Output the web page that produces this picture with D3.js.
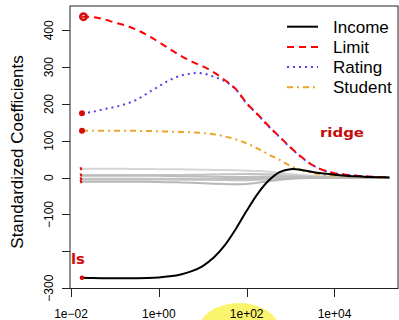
<!DOCTYPE html>
<html>
<head>
<meta charset="utf-8">
<script src="https://cdn.jsdelivr.net/npm/d3@7"></script>
<style>
  body { margin: 0; background: #fff; }
  svg { display: block; font-family: "Liberation Sans", Arial, sans-serif; }
</style>
</head>
<body>
<div id="chart"></div>
<script>
// log10(lambda) grid the coefficients were read at
const logLambda = [-1.75, -1.5, -1.25, -1.0, -0.75, -0.5, -0.25, 0, 0.25, 0.5, 0.75, 1.0, 1.25, 1.5,
  1.75, 2.0, 2.25, 2.5, 2.75, 3.0, 3.25, 3.5, 3.75, 4.0, 4.25, 4.5, 4.75, 5.0, 5.25];

const income = [-272, -272.5, -273, -273, -273, -273, -272.5, -271, -268, -263, -254, -240, -217, -184,
  -140, -90, -44, -8, 15, 23, 21, 15, 11, 8, 5, 3.5, 2, 1, 0.5];
const limit = [437, 436, 430, 421, 413, 401, 386, 368, 349, 331, 315, 302, 286, 265,
  241, 202, 172, 140, 111, 82, 56, 34, 20, 12, 8, 5, 3, 1.5, 0.8];
const rating = [175, 179, 186, 192, 200, 212, 230, 248, 265, 277, 283, 283, 274, 262,
  240, 201, 171, 139, 110, 81, 55, 34, 20, 12, 8, 5, 3, 1.5, 0.8];
const student = [127, 127, 127, 127, 127, 127, 126.5, 126, 125, 124, 123, 121, 118, 112,
  104, 93, 79, 63, 48, 32, 21, 13, 8, 6, 4, 2.5, 1.5, 1, 0.5];

// the other seven predictors, drawn in grey
const cards = [24, 24, 24, 24, 24, 23.5, 23.5, 23, 23, 22.5, 22, 21.5, 21, 20.5,
  20, 19, 18, 16, 13, 10, 7, 5, 3.5, 2.5, 1.5, 1, 0.6, 0.3, 0.1];
const asian = [7, 7, 7, 7, 7, 7, 7, 7, 7, 7, 7.5, 8, 8.5, 9, 9.5, 10, 10, 9, 7, 5, 3.5, 2.5, 1.5, 1, 0.6, 0.4, 0.2, 0.1, 0];
const caucasian = [5, 5, 5, 5, 5, 5, 5, 5, 4.5, 4, 3.5, 3, 2.5, 2, 2, 2, 2.5, 3, 3, 2.5, 2, 1.5, 1, 0.7, 0.5, 0.3, 0.2, 0.1, 0];
const education = [-3, -3, -3, -3, -3, -3, -3, -3, -3, -3, -3, -3, -3, -3, -3, -2.5, -2, -1.5, -1, -0.5, -0.3, -0.2, -0.1, 0, 0, 0, 0, 0, 0];
const gender = [-5, -5, -5, -5, -5, -5, -5, -5, -5, -5, -5, -5, -5, -4.5, -4, -3, -2, -1, -0.5, 0, 0.3, 0.4, 0.3, 0.2, 0.1, 0.1, 0, 0, 0];
const married = [-4, -4, -4, -4, -4, -4, -4, -4, -4, -4.5, -5, -5.5, -6, -6.5, -7, -7, -6, -4.5, -3, -1.5, -0.8, -0.4, -0.2, -0.1, 0, 0, 0, 0, 0];
const age = [-11, -11, -11, -11, -11, -11, -11.5, -12, -12.5, -13, -14, -15, -16.5, -17.5, -18, -17, -14, -10, -6, -3, -1.5, -0.8, -0.4, -0.2, -0.1, 0, 0, 0, 0];

const yTicks = [-300, -200, -100, 0, 100, 200, 300, 400];
const yTickLabels = ['\u2212300', '', '\u2212100', '0', '100', '200', '300', '400'];
const xTicks = [1e-2, 1e0, 1e2, 1e4];
const xTickLabels = ['1e\u221202', '1e+00', '1e+02', '1e+04'];
const legendNames = ['Income', 'Limit', 'Rating', 'Student'];

const width = 399;
const height = 320;

const svg = d3.select('#chart')
  .append('svg')
  .attr('width', width)
  .attr('height', height);

const x = d3.scaleLog()
  .domain([Math.pow(10, -2.023), Math.pow(10, 5.446)])
  .range([70, 398]);
const y = d3.scaleLinear()
  .domain([-301, 466])
  .range([288.5, 6]);

const line = d3.line()
  .x(function(d) { return x(Math.pow(10, d[0])); })
  .y(function(d) { return y(d[1]); })
  .curve(d3.curveCatmullRom);

function pairs(values) {
  return logLambda.map(function(l, i) { return [l, values[i]]; });
}

const styles = [
  {name: 'Income', values: income, color: '#000', width: 2, dash: null},
  {name: 'Limit', values: limit, color: '#ff0000', width: 2, dash: '7,5'},
  {name: 'Rating', values: rating, color: '#5a3cf0', width: 2, dash: '2,4'},
  {name: 'Student', values: student, color: '#eda326', width: 2, dash: '6,4,2,4'}
];
const greys = [
  {values: cards, color: '#d6d6d6'},
  {values: asian, color: '#c4c4c4'},
  {values: caucasian, color: '#bdbdbd'},
  {values: education, color: '#c8c8c8'},
  {values: gender, color: '#bababa'},
  {values: married, color: '#c2c2c2'},
  {values: age, color: '#b8b8b8'}
];

// highlighter blob behind the 1e+02 label
svg.append('ellipse')
  .attr('cx', 239)
  .attr('cy', 331)
  .attr('rx', 41)
  .attr('ry', 28)
  .attr('fill', '#fbf56e');

svg.selectAll('.grey')
  .data(greys)
  .enter()
  .append('path')
  .attr('class', 'grey')
  .attr('d', function(d) { return line(pairs(d.values)); })
  .attr('fill', 'none')
  .attr('stroke', function(d) { return d.color; })
  .attr('stroke-width', 2);

// draw order: Student, Rating, Limit, Income on top
svg.selectAll('.coef')
  .data(styles.slice().reverse())
  .enter()
  .append('path')
  .attr('class', 'coef')
  .attr('d', function(d) { return line(pairs(d.values)); })
  .attr('fill', 'none')
  .attr('stroke', function(d) { return d.color; })
  .attr('stroke-width', function(d) { return d.width; })
  .attr('stroke-dasharray', function(d) { return d.dash; });

// plot box
svg.append('rect')
  .attr('x', 70)
  .attr('y', 6)
  .attr('width', 328)
  .attr('height', 282.5)
  .attr('fill', 'none')
  .attr('stroke', '#222')
  .attr('stroke-width', 1);

// y axis
const yAxis = svg.append('g');
yAxis.selectAll('line')
  .data(yTicks)
  .enter()
  .append('line')
  .attr('x1', 62)
  .attr('x2', 70)
  .attr('y1', function(d) { return Math.round(y(d)) + 0.5; })
  .attr('y2', function(d) { return Math.round(y(d)) + 0.5; })
  .attr('stroke', '#222');
yAxis.selectAll('text')
  .data(yTicks)
  .enter()
  .append('text')
  .attr('transform', function(d) { return 'translate(53,' + y(d) + ') rotate(-90)'; })
  .attr('text-anchor', 'middle')
  .attr('font-size', 12)
  .text(function(d, i) { return yTickLabels[i]; });

svg.append('text')
  .attr('transform', 'translate(23,152) rotate(-90)')
  .attr('text-anchor', 'middle')
  .attr('font-size', 17)
  .text('Standardized Coefficients');

// x axis
const xAxis = svg.append('g');
xAxis.selectAll('line')
  .data(xTicks)
  .enter()
  .append('line')
  .attr('x1', function(d) { return Math.round(x(d)) + 0.5; })
  .attr('x2', function(d) { return Math.round(x(d)) + 0.5; })
  .attr('y1', 288.5)
  .attr('y2', 297)
  .attr('stroke', '#222');
xAxis.selectAll('text')
  .data(xTicks)
  .enter()
  .append('text')
  .attr('x', function(d) { return x(d); })
  .attr('y', 317.5)
  .attr('text-anchor', 'middle')
  .attr('font-size', 12)
  .text(function(d, i) { return xTickLabels[i]; });

// legend
const legend = svg.selectAll('.legend')
  .data(styles)
  .enter()
  .append('g')
  .attr('class', 'legend')
  .attr('transform', function(d, i) { return 'translate(0,' + (26.7 + i * 20.2) + ')'; });
legend.append('line')
  .attr('x1', 287)
  .attr('x2', 318)
  .attr('stroke', function(d) { return d.color; })
  .attr('stroke-width', 2)
  .attr('stroke-dasharray', function(d) { return d.dash; });
legend.append('text')
  .attr('x', 333)
  .attr('y', 6)
  .attr('font-size', 17)
  .text(function(d, i) { return legendNames[i]; });

// hand-drawn red marks at the least squares end of each path
const ink = '#d40d0d';
const x0 = x(Math.pow(10, logLambda[0]));
svg.append('circle')
  .attr('cx', x0 + 1.5)
  .attr('cy', y(limit[0]))
  .attr('r', 3.2)
  .attr('fill', 'none')
  .attr('stroke', ink)
  .attr('stroke-width', 2.6);
svg.selectAll('.blob')
  .data([rating[0], student[0], income[0]])
  .enter()
  .append('circle')
  .attr('class', 'blob')
  .attr('cx', x0)
  .attr('cy', function(d) { return y(d); })
  .attr('r', function(d, i) { return i === 2 ? 2.3 : 3; })
  .attr('fill', ink);
svg.selectAll('.tick-mark')
  .data([cards[0], asian[0], education[0], age[0]])
  .enter()
  .append('line')
  .attr('class', 'tick-mark')
  .attr('x1', x0 - 1.5)
  .attr('x2', x0 - 0.5)
  .attr('y1', function(d) { return y(d) - 1.5; })
  .attr('y2', function(d) { return y(d) + 1.5; })
  .attr('stroke', ink)
  .attr('stroke-width', 2);

svg.append('text')
  .attr('x', 71)
  .attr('y', 264)
  .attr('font-family', 'DejaVu Sans')
  .attr('font-weight', 'bold')
  .attr('font-size', 14)
  .attr('fill', ink)
  .attr('textLength', 14)
  .attr('lengthAdjust', 'spacingAndGlyphs')
  .text('ls');

svg.append('text')
  .attr('x', 320)
  .attr('y', 137)
  .attr('font-family', 'DejaVu Sans')
  .attr('font-weight', 'bold')
  .attr('font-size', 13)
  .attr('fill', '#c40a0a')
  .attr('textLength', 44)
  .attr('lengthAdjust', 'spacingAndGlyphs')
  .text('ridge');
</script>
</body>
</html>
